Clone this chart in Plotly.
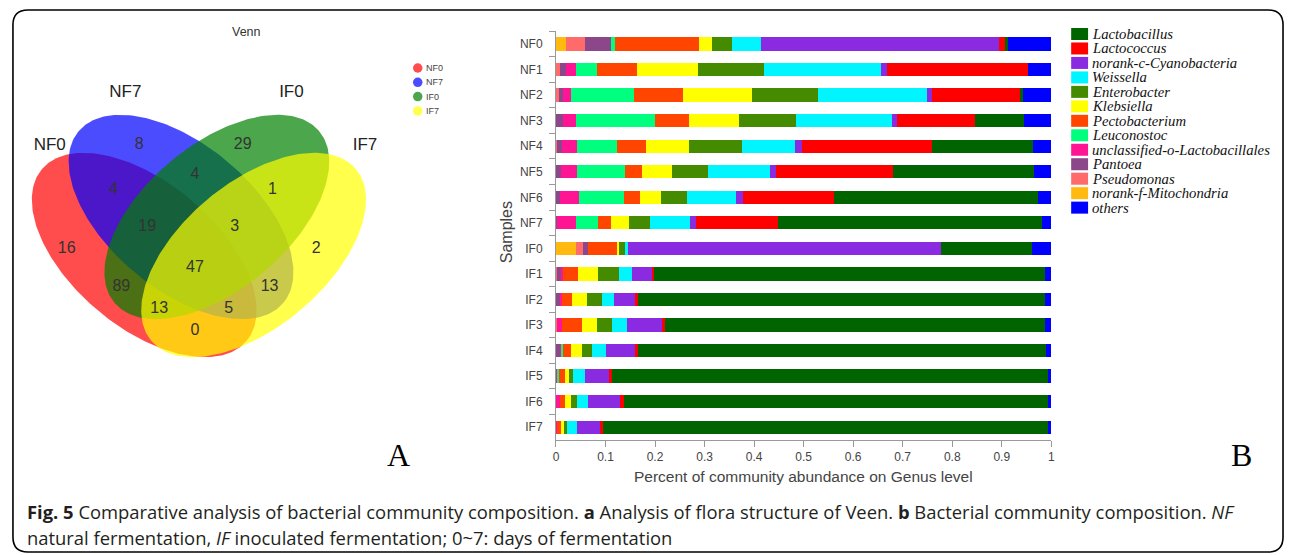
import numpy as np
import plotly.graph_objects as go

W, H = 1290, 555

# ---------------- data: stacked bars ----------------
samples = ["NF0", "NF1", "NF2", "NF3", "NF4", "NF5", "NF6", "NF7",
           "IF0", "IF1", "IF2", "IF3", "IF4", "IF5", "IF6", "IF7"]

genera = ["Lactobacillus", "Lactococcus", "norank-c-Cyanobacteria", "Weissella",
          "Enterobacter", "Klebsiella", "Pectobacterium", "Leuconostoc",
          "unclassified-o-Lactobacillales", "Pantoea", "Pseudomonas",
          "norank-f-Mitochondria", "others"]

genus_colors = ["#006400", "#FF0000", "#8A2BE2", "#00F5FF", "#458B00", "#FFFF00",
                "#FF4500", "#00FF7F", "#FF1493", "#8B4789", "#FF6A6A", "#FFB90F",
                "#0000FF"]

lactobacillus = [.004, 0, .006, .100, .203, .284, .412, .532, .183, .789, .823, .768, .824, .881, .856, .899]
lactococcus = [.014, .283, .176, .156, .263, .237, .185, .166, 0, .004, .006, .006, .007, .004, .008, .006]
cyanobacteria = [.480, .013, .010, .010, .014, .011, .013, .013, .633, .041, .042, .070, .058, .051, .065, .047]
weissella = [.059, .236, .222, .194, .107, .126, .100, .080, .004, .026, .024, .031, .029, .023, .022, .019]
enterobacter = [.040, .134, .133, .116, .107, .072, .052, .043, .013, .043, .031, .031, .020, .009, .013, .007]
klebsiella = [.026, .123, .139, .101, .088, .061, .043, .035, .004, .039, .030, .030, .022, .008, .011, .005]
pectobacterium = [.170, .081, .098, .069, .057, .035, .032, .027, .060, .030, .020, .039, .016, .011, .010, .008]
leuconostoc = [.008, .042, .128, .159, .081, .096, .090, .045, 0, 0, 0, 0, .002, .003, 0, 0]
unclassified_lacto = [0, .020, .015, .026, .031, .032, .038, .038, 0, .004, .003, .010, .003, .004, .009, .003]
pantoea = [.053, .011, .009, .014, .009, .011, .009, .002, .010, .008, .009, 0, .009, 0, 0, 0]
pseudomonas = [.038, .009, .006, 0, .003, 0, 0, 0, .014, .003, 0, .003, 0, 0, 0, 0]
mitochondria = [.020, 0, 0, 0, 0, 0, 0, 0, .040, 0, 0, 0, 0, 0, 0, 0]
others = [.088, .048, .058, .055, .037, .035, .026, .019, .039, .013, .012, .012, .010, .006, .006, .006]

genus_values = [lactobacillus, lactococcus, cyanobacteria, weissella, enterobacter,
                klebsiella, pectobacterium, leuconostoc, unclassified_lacto, pantoea,
                pseudomonas, mitochondria, others]

x_ticks = [0, 0.1, 0.2, 0.3, 0.4, 0.5, 0.6, 0.7, 0.8, 0.9, 1]
x_ticktext = ["0", "0.1", "0.2", "0.3", "0.4", "0.5", "0.6", "0.7", "0.8", "0.9", "1"]

# ---------------- data: Venn ----------------
venn_sets = ["NF0", "NF7", "IF0", "IF7"]
venn_colors = ["rgba(255,0,0,0.7)", "rgba(0,0,255,0.7)", "rgba(0,128,0,0.7)", "rgba(255,255,0,0.7)"]
venn_counts = [16, 8, 29, 2, 4, 4, 1, 19, 3, 47, 89, 13, 5, 13, 0]

# ---------------- layout geometry (pixels) ----------------
venn_label_x = [64, 137, 241, 315, 111, 193, 271, 145, 233, 193, 119, 157, 227, 268, 193]
venn_label_y = [249, 145, 145, 249, 190, 175, 190, 227, 227, 268, 287, 309, 309, 287, 331]
set_label_x = [47, 123, 290, 364]
set_label_y = [146, 93, 93, 146]
ell_cx = [142, 179, 215, 252]
ell_cy = [255, 217, 217, 255]
ell_ang = [39.7, 39.7, -39.7, -39.7]
ell_a, ell_b = 134, 72.5

SANS = "Liberation Sans, Arial, sans-serif"
SERIF = "Liberation Serif, Times New Roman, serif"
CAP = "Open Sans, sans-serif"

fig = go.Figure()

# stacked bars (stack order left -> right)
stack_order = list(range(len(genera) - 1))[::-1] + [len(genera) - 1]
for gi in stack_order:
    fig.add_trace(go.Bar(
        y=samples, x=genus_values[gi], orientation="h", name=genera[gi],
        marker=dict(color=genus_colors[gi], line=dict(width=0)),
        showlegend=False, xaxis="x", yaxis="y", hoverinfo="x+name"))

# Venn ellipses
t = np.linspace(0, 2 * np.pi, 240)
for i in range(4):
    th = np.deg2rad(ell_ang[i])
    ex = ell_cx[i] + ell_a * np.cos(t) * np.cos(th) - ell_b * np.sin(t) * np.sin(th)
    ey = ell_cy[i] + ell_a * np.cos(t) * np.sin(th) + ell_b * np.sin(t) * np.cos(th)
    fig.add_trace(go.Scatter(x=ex, y=ey, mode="lines", fill="toself",
                             fillcolor=venn_colors[i], line=dict(width=0, color="rgba(0,0,0,0)"),
                             showlegend=False, hoverinfo="skip", xaxis="x2", yaxis="y2"))

fig.add_trace(go.Scatter(x=venn_label_x, y=venn_label_y, text=[str(v) for v in venn_counts],
                         mode="text", textfont=dict(family=SANS, size=16, color="#333333"),
                         showlegend=False, hoverinfo="skip", xaxis="x2", yaxis="y2"))
fig.add_trace(go.Scatter(x=set_label_x, y=set_label_y, text=venn_sets,
                         mode="text", textfont=dict(family=SANS, size=17, color="#222222"),
                         showlegend=False, hoverinfo="skip", xaxis="x2", yaxis="y2"))

# mini Venn legend
mleg_y = [68 + 14.3 * i for i in range(4)]
fig.add_trace(go.Scatter(x=[417] * 4, y=mleg_y, mode="markers",
                         marker=dict(size=9.5, color=venn_colors, line=dict(width=0)),
                         showlegend=False, hoverinfo="skip", xaxis="x2", yaxis="y2"))

annotations = []
for i, s in enumerate(venn_sets):
    annotations.append(dict(x=423, y=mleg_y[i], xref="x2", yref="y2", text=s, showarrow=False,
                            xanchor="left", yanchor="middle",
                            font=dict(family=SANS, size=9, color="#444444")))

annotations.append(dict(x=245, y=32, xref="x2", yref="y2", text="Venn", showarrow=False,
                        font=dict(family=SANS, size=12.5, color="#333333")))
annotations.append(dict(x=398, y=455, xref="x2", yref="y2", text="A", showarrow=False,
                        font=dict(family=SERIF, size=32, color="#000000")))
annotations.append(dict(x=1245, y=455, xref="x2", yref="y2", text="B", showarrow=False,
                        font=dict(family=SERIF, size=32, color="#000000")))

# bar chart axis titles
annotations.append(dict(x=805, y=476, xref="x2", yref="y2",
                        text="Percent of community abundance on Genus level", showarrow=False,
                        font=dict(family=SANS, size=15.5, color="#444444")))
annotations.append(dict(x=506, y=232, xref="x2", yref="y2", text="Samples", showarrow=False,
                        textangle=-90, font=dict(family=SANS, size=16, color="#444444")))

# genus legend
shapes = []
for i, g in enumerate(genera):
    yc = 34 + 14.47 * i
    shapes.append(dict(type="rect", xref="x2", yref="y2", x0=1074, x1=1091, y0=yc - 6, y1=yc + 6,
                       fillcolor=genus_colors[i], line=dict(width=0)))
    annotations.append(dict(x=1093, y=yc, xref="x2", yref="y2", text="<i>%s</i>" % g,
                            showarrow=False, xanchor="left", yanchor="middle",
                            font=dict(family=SERIF, size=14.7, color="#111111")))

# caption
annotations.append(dict(x=22, y=511, xref="x2", yref="y2", xanchor="left", yanchor="middle",
                        showarrow=False,
                        text=("<b>Fig. 5</b> Comparative analysis of bacterial community composition. "
                              "<b>a</b> Analysis of flora structure of Veen. <b>b</b> Bacterial community "
                              "composition. <i>NF</i>"),
                        font=dict(family=CAP, size=18.4, color="#231F20")))
annotations.append(dict(x=22, y=537, xref="x2", yref="y2", xanchor="left", yanchor="middle",
                        showarrow=False,
                        text="natural fermentation, <i>IF</i> inoculated fermentation; 0~7: days of fermentation",
                        font=dict(family=CAP, size=18.4, color="#231F20")))

# outer rounded border
r = 15
x0b, y0b, x1b, y1b = 10, 10, 1287, 552
border = (f"M {x0b + r},{y0b} L {x1b - r},{y0b} Q {x1b},{y0b} {x1b},{y0b + r} "
          f"L {x1b},{y1b - r} Q {x1b},{y1b} {x1b - r},{y1b} L {x0b + r},{y1b} "
          f"Q {x0b},{y1b} {x0b},{y1b - r} L {x0b},{y0b + r} Q {x0b},{y0b} {x0b + r},{y0b} Z")
shapes.append(dict(type="path", xref="x2", yref="y2", path=border,
                   line=dict(color="#000000", width=1.6), fillcolor="rgba(0,0,0,0)"))

fig.update_layout(
    width=W, height=H, margin=dict(l=0, r=0, t=0, b=0),
    paper_bgcolor="white", plot_bgcolor="rgba(0,0,0,0)",
    barmode="stack", bargap=0.48, showlegend=False,
    xaxis=dict(domain=[556 / W, 1054 / W], range=[0, 1], anchor="y",
               tickvals=x_ticks, ticktext=x_ticktext, ticks="outside", ticklen=6,
               tickcolor="#999999", showline=True, linecolor="#999999", linewidth=1,
               showgrid=False, zeroline=False,
               tickfont=dict(family=SANS, size=12, color="#444444")),
    yaxis=dict(domain=[1 - 440 / H, 1 - 31.25 / H], anchor="x", type="category",
               categoryorder="array", categoryarray=samples, autorange="reversed",
               ticks="outside", tickson="boundaries", ticklen=6, tickcolor="#999999",
               showline=True, linecolor="#999999", linewidth=1, showgrid=False,
               ticklabelstandoff=10,
               tickfont=dict(family=SANS, size=12, color="#444444")),
    xaxis2=dict(domain=[0, 1], range=[0, W], anchor="y2", visible=False, fixedrange=True),
    yaxis2=dict(domain=[0, 1], range=[H, 0], anchor="x2", visible=False, fixedrange=True),
    annotations=annotations, shapes=shapes,
)

fig.write_html("out.html")
